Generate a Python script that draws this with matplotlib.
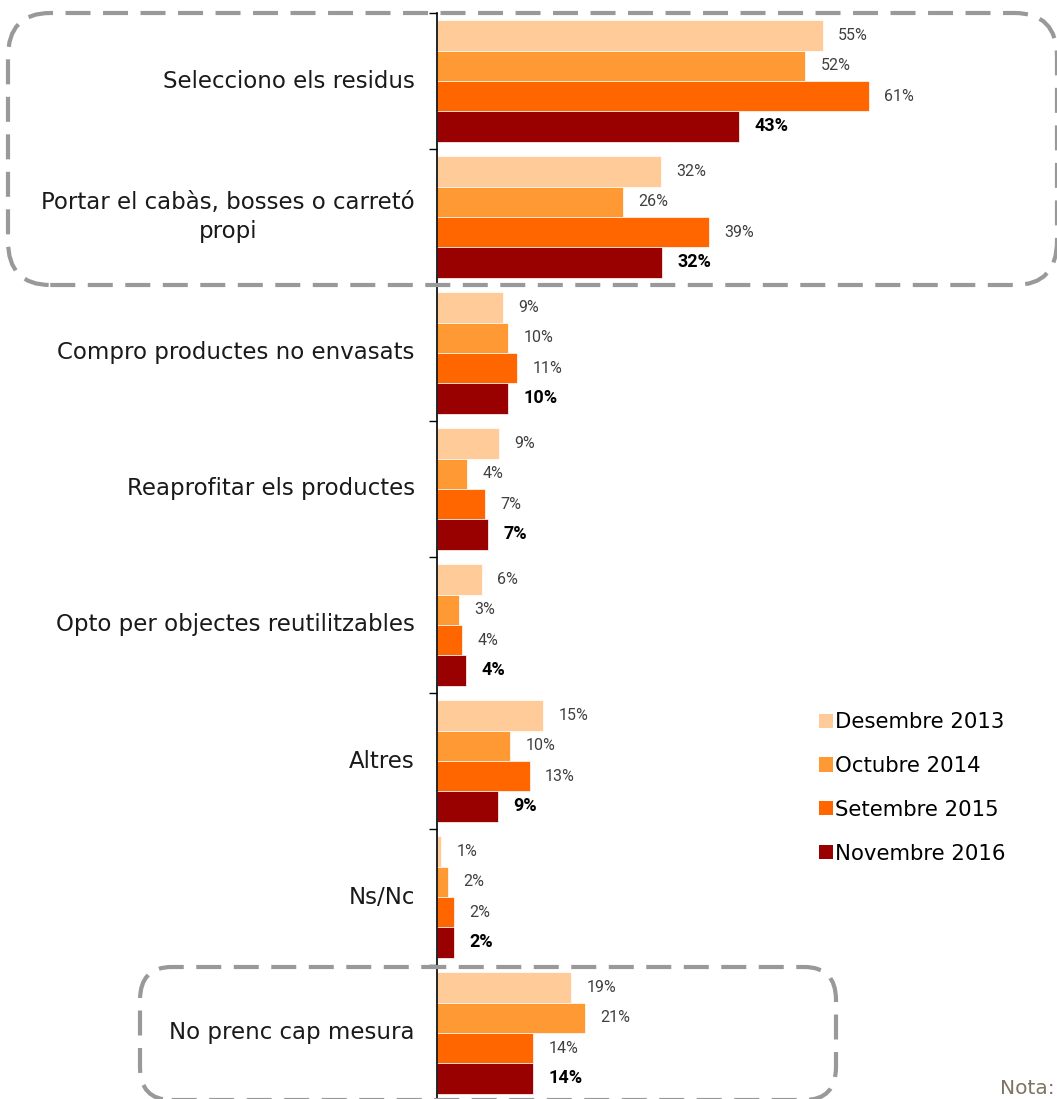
import matplotlib
matplotlib.use("Agg")
import matplotlib.pyplot as plt
from matplotlib.patches import FancyBboxPatch, Patch

# Data
categories = [
    "Selecciono els residus",
    "Portar el cabàs, bosses o carretó\npropi",
    "Compro productes no envasats",
    "Reaprofitar els productes",
    "Opto per objectes reutilitzables",
    "Altres",
    "Ns/Nc",
    "No prenc cap mesura",
]
series = ["Desembre 2013", "Octubre 2014", "Setembre 2015", "Novembre 2016"]
dec_2013 = [54.9, 31.9, 9.4, 8.8, 6.4, 15.1, 0.6, 19.1]
oct_2014 = [52.4, 26.4, 10.1, 4.3, 3.1, 10.4, 1.6, 21.1]
set_2015 = [61.4, 38.7, 11.4, 6.8, 3.6, 13.2, 2.4, 13.7]
nov_2016 = [43.0, 32.0, 10.1, 7.3, 4.1, 8.7, 2.4, 13.7]
colors = ["#FFCC99", "#FF9933", "#FF6600", "#990000"]

values = [dec_2013, oct_2014, set_2015, nov_2016]

fig = plt.figure(figsize=(10.57, 10.99), dpi=100)
ax = fig.add_axes([437 / 1057, -2 / 1099, 1 - 437 / 1057, 1088 / 1099])

bar_h = 0.2225
pad = (1 - 4 * bar_h) / 2
for j, (vals, col) in enumerate(zip(values, colors)):
    ys = [i + pad + (j + 0.5) * bar_h for i in range(len(categories))]
    ax.barh(ys, vals, height=bar_h, color=col, edgecolor="white", linewidth=0.5)
    for y, v in zip(ys, vals):
        last = j == 3
        ax.annotate(f"{v:.0f}%", (v, y), xytext=(11, 0), textcoords="offset points",
                    ha="left", va="center", family="Roboto",
                    fontsize=13 if last else 11.5,
                    fontweight="bold" if last else "normal",
                    color="black" if last else "#404040")

ax.set_ylim(len(categories), 0)
ax.set_xlim(0, 620 / 7.03)
ax.set_yticks(range(len(categories) + 1))
ax.set_yticklabels([])
ax.tick_params(axis="y", direction="out", length=6, width=1)
ax.set_xticks([])
for s in ["top", "right", "bottom"]:
    ax.spines[s].set_visible(False)
ax.spines["left"].set_linewidth(1.2)

for i, cat in enumerate(categories):
    ax.annotate(cat, (0, i + 0.5), xytext=(-16, 0), textcoords="offset points",
                ha="right", va="center", multialignment="center",
                fontsize=16.5, family="DejaVu Sans", color="#1a1a1a",
                linespacing=1.35)

legend_handles = [Patch(facecolor=c, edgecolor="none") for c in colors]
fig.legend(legend_handles, series, loc="upper left",
           bbox_to_anchor=(800 / 1057, 1 - 693 / 1099), frameon=False,
           handlelength=0.65, handleheight=0.65, handletextpad=0.12,
           labelspacing=1.12, prop={"family": "DejaVu Sans", "size": 15.3})

# dashed rounded frames
for (x0, y0, x1, y1, r) in [(8, 13, 1057, 285, 0.04), (140, 967, 836, 1100, 0.03)]:
    box = FancyBboxPatch((x0 / 1057, 1 - y1 / 1099), (x1 - x0) / 1057, (y1 - y0) / 1099,
                         boxstyle=f"round,pad=0,rounding_size={r}",
                         transform=fig.transFigure, fill=False,
                         edgecolor="#999999", linewidth=3, linestyle=(0, (6, 3)),
                         clip_on=False)
    fig.patches.append(box)

fig.text(1000 / 1057, 1 - 1088 / 1099, "Nota:", ha="left", va="center",
         fontsize=14.5, color="#7F7363", family="DejaVu Sans")

fig.savefig("out.png", dpi=100)
